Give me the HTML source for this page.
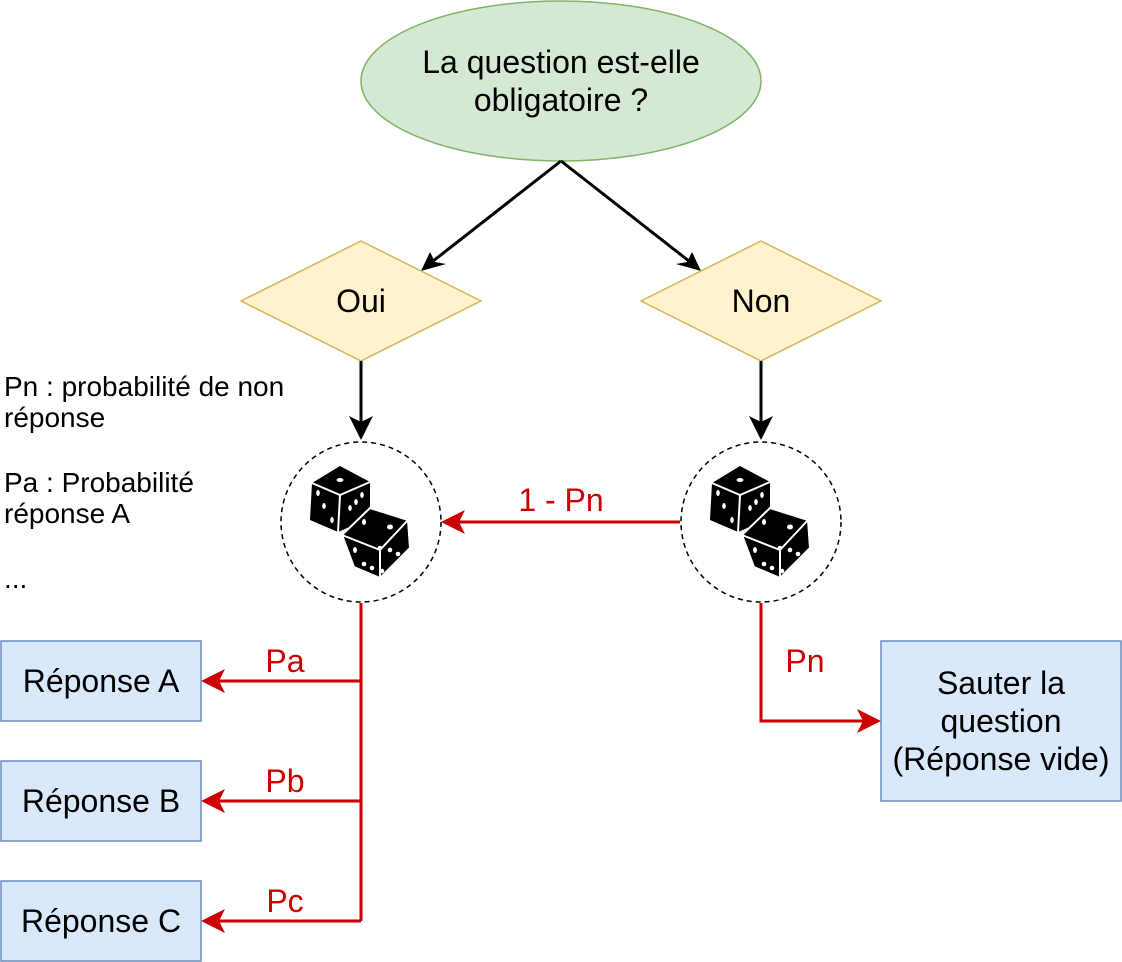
<!DOCTYPE html>
<html><head><style>
body{margin:0;background:#fff;}
svg{display:block;}
.t22{font-size:32px;}
.t18{font-size:28px;}
.red{fill:#cc0000;}
</style></head><body>
<svg width="1122" height="962" viewBox="0 0 1122 962" xmlns="http://www.w3.org/2000/svg" style="font-family:'Liberation Sans',Arial,sans-serif" font-family="Liberation Sans, Arial, sans-serif">
<defs>
<g id="dice">
<polygon points="60,26 90,42 90,78 58,92 30,80 32,43" fill="#000"/>
<path d="M32,43 L60,55 L90,42 M60,55 L58,92" stroke="#fff" stroke-width="2" fill="none"/>
<ellipse cx="60" cy="40" rx="3.5" ry="2" fill="#fff"/>
<ellipse cx="38" cy="53" rx="1.8" ry="3" fill="#fff"/><ellipse cx="44" cy="66" rx="1.8" ry="3" fill="#fff"/><ellipse cx="52" cy="80" rx="1.8" ry="3" fill="#fff"/>
<ellipse cx="82" cy="55" rx="1.8" ry="3" fill="#fff"/><ellipse cx="70" cy="68" rx="1.8" ry="3" fill="#fff"/><ellipse cx="76" cy="62" rx="1.8" ry="3" fill="#fff"/>
<polygon points="90,68 128,80 130,108 100,138 74,127 62,95" fill="#000" stroke="#fff" stroke-width="2"/>
<path d="M62,95 L100,110 L128,80 M100,110 L100,138" stroke="#fff" stroke-width="2" fill="none"/>
<ellipse cx="84" cy="82" rx="2" ry="3" fill="#fff"/><ellipse cx="110" cy="87" rx="3" ry="2.5" fill="#fff"/>
<ellipse cx="75" cy="110" rx="2" ry="3" fill="#fff"/>
<circle cx="100" cy="108" r="2.3" fill="#fff"/><circle cx="110" cy="110" r="2.3" fill="#fff"/><circle cx="118" cy="114" r="2.3" fill="#fff"/>
<circle cx="84" cy="124" r="2.3" fill="#fff"/><circle cx="92" cy="128" r="2.3" fill="#fff"/><circle cx="102" cy="131" r="2.3" fill="#fff"/>
</g>
</defs>
<ellipse cx="561" cy="81" rx="200" ry="80" fill="#d5e8d4" stroke="#82b366" stroke-width="1.5"/>
<text x="561" y="73" class="t22" text-anchor="middle">La question est-elle</text>
<text x="561" y="111" class="t22" text-anchor="middle">obligatoire ?</text>
<line x1="561" y1="161" x2="428" y2="265" stroke="#000" stroke-width="3"/>
<polygon points="421,271 430,252 435,262 446,264" fill="#000"/>
<line x1="561" y1="161" x2="694" y2="265" stroke="#000" stroke-width="3"/>
<polygon points="701,271 676,264 687,262 692,252" fill="#000"/>
<polygon points="361,241 481,301 361,361 241,301" fill="#fff2cc" stroke="#d6b656" stroke-width="1.5"/>
<polygon points="761,241 881,301 761,361 641,301" fill="#fff2cc" stroke="#d6b656" stroke-width="1.5"/>
<text x="361" y="312" class="t22" text-anchor="middle">Oui</text>
<text x="761" y="312" class="t22" text-anchor="middle">Non</text>
<line x1="361" y1="361" x2="361" y2="430" stroke="#000" stroke-width="3"/>
<polygon points="361,440 349,416 361,422 373,416" fill="#000"/>
<line x1="761" y1="361" x2="761" y2="430" stroke="#000" stroke-width="3"/>
<polygon points="761,440 749,416 761,422 773,416" fill="#000"/>
<circle cx="361" cy="522" r="80" fill="#fff" stroke="#000" stroke-width="1.5" stroke-dasharray="5,4"/>
<circle cx="761" cy="522" r="80" fill="#fff" stroke="#000" stroke-width="1.5" stroke-dasharray="5,4"/>
<use href="#dice" x="280" y="440"/>
<use href="#dice" x="680" y="440"/>
<text x="4" y="396" class="t18">Pn : probabilité de non</text>
<text x="4" y="427" class="t18">réponse</text>
<text x="4" y="492" class="t18">Pa : Probabilité</text>
<text x="4" y="523" class="t18">réponse A</text>
<text x="4" y="588" class="t18">...</text>
<g stroke="#cc0000" stroke-width="3" fill="none">
<line x1="680" y1="522" x2="452" y2="522"/>
<line x1="361" y1="603" x2="361" y2="921"/>
<line x1="361" y1="681" x2="210" y2="681"/>
<line x1="361" y1="801" x2="210" y2="801"/>
<line x1="361" y1="921" x2="210" y2="921"/>
<polyline points="761,603 761,721 870,721"/>
</g>
<g fill="#cc0000">
<polygon points="441,522 465,510 459,522 465,534"/>
<polygon points="201,681 225,669 219,681 225,693"/>
<polygon points="201,801 225,789 219,801 225,813"/>
<polygon points="201,921 225,909 219,921 225,933"/>
<polygon points="881,721 857,709 863,721 857,733"/>
</g>
<text x="561" y="511" class="t22 red" text-anchor="middle">1 - Pn</text>
<text x="285" y="672" class="t22 red" text-anchor="middle">Pa</text>
<text x="285" y="792" class="t22 red" text-anchor="middle">Pb</text>
<text x="285" y="912" class="t22 red" text-anchor="middle">Pc</text>
<text x="805" y="672" class="t22 red" text-anchor="middle">Pn</text>
<g fill="#dae8fc" stroke="#6c8ebf" stroke-width="1.5">
<rect x="1" y="641" width="200" height="80"/>
<rect x="1" y="761" width="200" height="80"/>
<rect x="1" y="881" width="200" height="80"/>
<rect x="881" y="641" width="240" height="160"/>
</g>
<text x="101" y="692" class="t22" text-anchor="middle">Réponse A</text>
<text x="101" y="812" class="t22" text-anchor="middle">Réponse B</text>
<text x="101" y="932" class="t22" text-anchor="middle">Réponse C</text>
<text x="1001" y="694" class="t22" text-anchor="middle">Sauter la</text>
<text x="1001" y="732" class="t22" text-anchor="middle">question</text>
<text x="1001" y="770" class="t22" text-anchor="middle">(Réponse vide)</text>
</svg>
</body></html>
